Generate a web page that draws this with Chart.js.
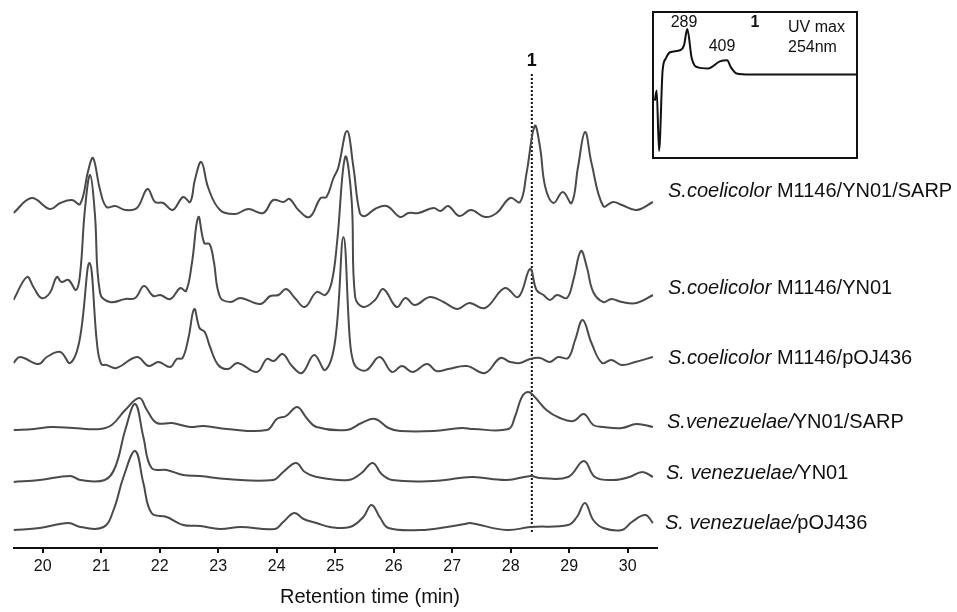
<!DOCTYPE html>
<html lang="en">
<head>
<meta charset="UTF-8">
<title>HPLC traces</title>
<script src="https://cdn.jsdelivr.net/npm/chart.js"></script>
<style>
  body { margin: 0; background: #fff; }
  #wrap { position: relative; width: 957px; height: 612px; }
  #main { display: block; }
  #inset { position: absolute; left: 652px; top: 11px; width: 206px; height: 148px; border: 2px solid #111; box-sizing: border-box; background: #fff; }
  #uv { display: block; }
</style>
</head>
<body>
<div id="wrap">
  <canvas id="main" width="957" height="612"></canvas>
  <div id="inset"><canvas id="uv" width="202" height="144"></canvas></div>
</div>
<script>
// retention time (min) and stacked detector signal for each strain (top to bottom)
const coeliSarpT = [19.5, 19.81, 20.12, 20.3, 20.5, 20.64, 20.78, 20.86, 20.98, 21.09, 21.24, 21.41, 21.61, 21.79, 21.92, 22.06, 22.22, 22.4, 22.52, 22.6, 22.71, 22.83, 23.03, 23.29, 23.51, 23.77, 23.94, 24.11, 24.22, 24.37, 24.56, 24.75, 24.85, 24.97, 25.05, 25.2, 25.31, 25.42, 25.51, 25.68, 25.88, 26.11, 26.25, 26.42, 26.68, 26.8, 26.93, 27.12, 27.32, 27.56, 27.76, 27.99, 28.16, 28.27, 28.41, 28.5, 28.59, 28.73, 28.89, 29.04, 29.15, 29.27, 29.38, 29.58, 29.75, 29.9, 30.15, 30.43];
const coeliSarpY = [335, 350, 339, 345, 348, 344, 378, 390, 358, 341, 342, 338, 340, 359, 346, 345, 338, 351, 346, 368, 386, 360, 338, 334, 339, 335, 348, 346, 349, 338, 331, 350, 351, 370, 380, 417, 381, 335, 332, 339, 342, 331, 335, 335, 340, 337, 342, 332, 338, 331, 335, 350, 346, 375, 422, 401, 361, 345, 356, 345, 381, 416, 385, 342, 346, 343, 338, 346];

const coeliYnT = [19.5, 19.73, 19.84, 19.98, 20.12, 20.24, 20.32, 20.44, 20.57, 20.64, 20.72, 20.81, 20.89, 20.98, 21.15, 21.41, 21.58, 21.73, 21.89, 22.01, 22.18, 22.35, 22.45, 22.55, 22.66, 22.76, 22.85, 22.92, 23.03, 23.21, 23.38, 23.72, 23.89, 24.03, 24.16, 24.31, 24.48, 24.68, 24.83, 24.94, 25.03, 25.17, 25.28, 25.34, 25.48, 25.68, 25.82, 26.05, 26.2, 26.36, 26.62, 26.85, 27.09, 27.29, 27.56, 27.9, 28.13, 28.33, 28.44, 28.56, 28.67, 28.79, 28.96, 29.07, 29.2, 29.3, 29.41, 29.58, 29.72, 29.9, 30.15, 30.43];
const coeliYnY = [248, 271, 261, 250, 255, 271, 266, 268, 258, 275, 338, 373, 335, 255, 246, 249, 250, 262, 252, 253, 249, 260, 257, 285, 331, 305, 304, 288, 251, 246, 250, 244, 252, 253, 259, 250, 241, 256, 253, 266, 305, 391, 348, 251, 241, 248, 259, 241, 250, 243, 251, 246, 239, 245, 240, 260, 251, 279, 258, 253, 248, 253, 250, 268, 297, 281, 256, 246, 249, 246, 245, 253];

const coeliPojT = [19.5, 19.61, 19.93, 20.07, 20.3, 20.47, 20.63, 20.8, 20.93, 21.0, 21.09, 21.26, 21.61, 21.81, 21.98, 22.18, 22.29, 22.39, 22.49, 22.59, 22.68, 22.77, 22.86, 23.0, 23.17, 23.33, 23.66, 23.83, 23.95, 24.1, 24.26, 24.43, 24.64, 24.83, 25.0, 25.14, 25.25, 25.31, 25.4, 25.54, 25.76, 25.97, 26.14, 26.32, 26.57, 26.73, 26.93, 27.25, 27.56, 27.82, 27.99, 28.16, 28.33, 28.5, 28.67, 28.81, 28.98, 29.1, 29.23, 29.38, 29.56, 29.72, 29.9, 30.13, 30.43];
const coeliPojY = [185, 191, 184, 191, 196, 185, 208, 285, 203, 184, 183, 180, 191, 182, 186, 181, 189, 190, 210, 239, 220, 216, 201, 183, 179, 185, 176, 189, 187, 194, 182, 175, 193, 178, 208, 311, 208, 186, 179, 178, 191, 176, 182, 176, 184, 177, 179, 182, 175, 190, 186, 185, 189, 190, 186, 191, 190, 208, 228, 205, 185, 188, 183, 186, 191];

const venSarpT = [19.5, 19.85, 20.15, 20.52, 20.98, 21.18, 21.41, 21.65, 21.78, 21.95, 22.21, 22.52, 22.75, 23.15, 23.83, 24.0, 24.16, 24.35, 24.51, 24.68, 25.2, 25.45, 25.68, 25.91, 26.11, 26.68, 27.16, 27.36, 27.96, 28.07, 28.19, 28.3, 28.41, 28.61, 28.84, 29.07, 29.25, 29.41, 29.58, 29.9, 30.15, 30.43];
const venSarpY = [118, 119, 121, 120, 119, 123, 138, 150, 138, 125, 125, 121, 122, 119, 118, 129, 132, 141, 130, 121, 118, 125, 129, 120, 117, 117, 120, 119, 119, 131, 151, 156, 151, 138, 130, 127, 134, 123, 121, 120, 124, 121];

const venYnT = [19.5, 19.95, 20.47, 20.64, 21.06, 21.24, 21.41, 21.58, 21.72, 21.86, 22.12, 22.4, 22.69, 23.15, 23.94, 24.11, 24.33, 24.48, 24.68, 25.23, 25.45, 25.64, 25.79, 25.97, 26.68, 27.13, 27.36, 27.93, 28.34, 28.5, 28.98, 29.25, 29.44, 29.75, 30.03, 30.25, 30.43];
const venYnY = [66, 68, 72, 68, 68, 81, 118, 144, 111, 80, 78, 73, 72, 69, 68, 76, 85, 76, 71, 68, 75, 85, 74, 68, 67, 70, 71, 68, 72, 70, 71, 87, 71, 68, 71, 76, 71];

const venPojT = [19.5, 19.95, 20.44, 20.64, 21.04, 21.21, 21.38, 21.58, 21.72, 21.86, 22.12, 22.4, 22.69, 23.03, 23.38, 23.97, 24.11, 24.3, 24.46, 24.68, 24.91, 25.25, 25.48, 25.62, 25.77, 25.91, 26.46, 26.91, 27.22, 27.3, 27.93, 28.34, 28.98, 29.13, 29.27, 29.41, 29.58, 29.9, 30.07, 30.3, 30.43];
const venPojY = [18, 20, 25, 21, 21, 38, 71, 97, 65, 35, 31, 23, 22, 19, 21, 19, 26, 35, 29, 25, 21, 21, 31, 43, 30, 20, 18, 21, 24, 25, 18, 21, 23, 31, 45, 28, 20, 18, 26, 33, 25];

const traceNames = [
  ['S.coelicolor', ' M1146/YN01/SARP'],
  ['S.coelicolor', ' M1146/YN01'],
  ['S.coelicolor', ' M1146/pOJ436'],
  ['S.venezuelae/', 'YN01/SARP'],
  ['S. venezuelae/', 'YN01'],
  ['S. venezuelae/', 'pOJ436']
];
const tickValues = [20, 21, 22, 23, 24, 25, 26, 27, 28, 29, 30];
const xTitle = 'Retention time (min)';

// compound 1 marker
const markerTime = 28.36;
const markerRange = [16, 475];
const markerLabel = '1';

// UV spectrum of compound 1 (inset)
const uvNm = [178, 184, 192, 204, 215, 229, 263, 276, 287, 302, 323, 357, 397, 421, 434, 453, 498, 855];
const uvAbs = [56, 66, 6, 86, 98, 104, 106, 111, 127, 98, 89, 88, 95, 96, 89, 83, 82, 82];
const uvPeaks = ['289', '409'];

const font = '"Liberation Sans", Arial, sans-serif';
const labelX = [668, 668, 668, 667, 666, 665];
const labelY = [191, 288, 358, 422, 473, 523];

function pts(ts, ys) { return ts.map((t, i) => ({ x: t, y: ys[i] })); }

const traces = [
  pts(coeliSarpT, coeliSarpY), pts(coeliYnT, coeliYnY), pts(coeliPojT, coeliPojY),
  pts(venSarpT, venSarpY), pts(venYnT, venYnY), pts(venPojT, venPojY)
];

const annotations = {
  id: 'annotations',
  afterDatasetsDraw(chart) {
    const { ctx, scales: { x, y } } = chart;
    ctx.save();
    ctx.fillStyle = '#111';
    ctx.textBaseline = 'middle';
    ctx.textAlign = 'left';
    traceNames.forEach((n, i) => {
      ctx.font = 'italic 20px ' + font;
      ctx.fillText(n[0], labelX[i], labelY[i]);
      const w = ctx.measureText(n[0]).width;
      ctx.font = '20px ' + font;
      ctx.fillText(n[1], labelX[i] + w, labelY[i]);
    });
    ctx.textAlign = 'center';
    ctx.font = 'bold 18px ' + font;
    ctx.fillText(markerLabel, x.getPixelForValue(markerTime), y.getPixelForValue(markerRange[1]) - 12);
    ctx.font = '20px ' + font;
    ctx.fillText(xTitle, 370, 597);
    ctx.restore();
  }
};

const datasets = traces.map(d => ({
  data: d,
  borderColor: '#4a4a4a',
  borderWidth: 2,
  pointRadius: 0,
  tension: 0.4,
  fill: false
}));
datasets.push({
  data: [{ x: markerTime, y: markerRange[0] }, { x: markerTime, y: markerRange[1] }],
  borderColor: '#111',
  borderWidth: 2,
  borderDash: [2, 2],
  pointRadius: 0
});

new Chart(document.getElementById('main'), {
  type: 'line',
  data: { datasets },
  options: {
    responsive: false,
    animation: false,
    layout: { padding: { left: 13.5, right: 300, top: 8, bottom: 0 } },
    plugins: { legend: { display: false }, tooltip: { enabled: false } },
    scales: {
      x: {
        type: 'linear',
        min: 19.5,
        max: 30.5,
        afterBuildTicks: s => { s.ticks = tickValues.map(v => ({ value: v })); },
        afterFit: s => { s.height = 64; },
        grid: { drawOnChartArea: false, drawTicks: true, tickLength: 5, color: '#111', lineWidth: 2 },
        border: { display: true, color: '#111', width: 2 },
        ticks: { color: '#111', font: { family: font, size: 16 }, padding: 4, maxRotation: 0 }
      },
      y: { display: false, min: 0, max: 540 }
    }
  },
  plugins: [annotations]
});

const uvLabels = {
  id: 'uvLabels',
  afterDatasetsDraw(chart) {
    const { ctx } = chart;
    ctx.save();
    ctx.fillStyle = '#111';
    ctx.textBaseline = 'middle';
    ctx.textAlign = 'center';
    ctx.font = '16px ' + font;
    ctx.fillText(uvPeaks[0], 30, 10);
    ctx.fillText(uvPeaks[1], 68, 34);
    ctx.font = 'bold 16px ' + font;
    ctx.fillText(markerLabel, 101, 10);
    ctx.textAlign = 'left';
    ctx.font = '16px ' + font;
    ctx.fillText('UV max', 134, 15);
    ctx.fillText('254nm', 134, 35);
    ctx.restore();
  }
};

new Chart(document.getElementById('uv'), {
  type: 'line',
  data: {
    datasets: [{
      data: pts(uvNm, uvAbs),
      borderColor: '#111',
      borderWidth: 2,
      pointRadius: 0,
      cubicInterpolationMode: 'monotone'
    }]
  },
  options: {
    responsive: false,
    animation: false,
    layout: { padding: 0 },
    plugins: { legend: { display: false }, tooltip: { enabled: false } },
    scales: {
      x: { type: 'linear', display: false, min: 175, max: 855 },
      y: { display: false, min: 0, max: 143 }
    }
  },
  plugins: [uvLabels]
});
</script>
</body>
</html>
